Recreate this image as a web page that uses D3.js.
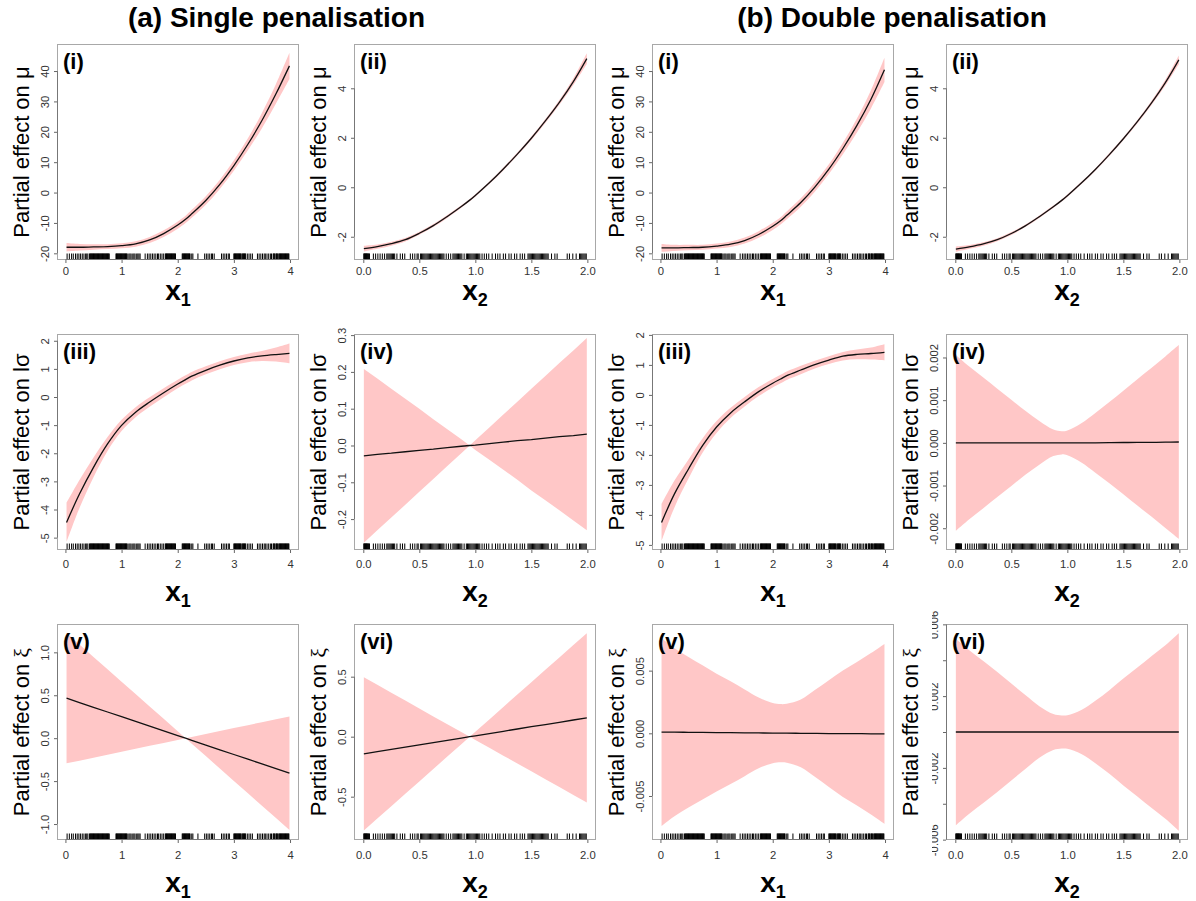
<!DOCTYPE html>
<html><head><meta charset="utf-8">
<script src="https://cdn.jsdelivr.net/npm/d3@7"></script>
<style>
body{margin:0;background:#fff}
svg{display:block}
text{font-family:"Liberation Sans",Arial,sans-serif}
</style>
</head><body>
<svg id="c" width="1196" height="901"></svg>
<script>
// ---------------- data ----------------
const x1Grid = [0.02,0.25,0.5,0.75,1.0,1.25,1.5,1.75,2.0,2.14,2.25,2.5,2.75,3.0,3.25,3.5,3.75,3.99];
const x2Grid = [0.005,0.125,0.25,0.375,0.5,0.625,0.75,0.875,0.95,1.0,1.125,1.25,1.375,1.5,1.625,1.75,1.875,1.995];

// (a) single penalisation
const aMuX1Fit = [-18.0,-18.0,-17.9,-17.8,-17.5,-16.9,-15.6,-13.5,-10.7,-8.8,-7.0,-2.6,2.7,8.9,15.9,23.7,32.5,41.7];
const aMuX1Se  = [1.4,1.1,0.9,0.8,0.8,0.9,1.0,1.1,1.2,1.2,1.3,1.4,1.5,1.7,2.0,2.5,3.2,4.3];
const aMuX2Fit = [-2.48,-2.40,-2.28,-2.12,-1.86,-1.55,-1.18,-0.78,-0.52,-0.33,0.18,0.74,1.34,1.98,2.68,3.43,4.27,5.20];
const aMuX2Se  = [0.12,0.09,0.08,0.07,0.06,0.06,0.06,0.05,0.05,0.05,0.05,0.06,0.06,0.07,0.08,0.10,0.14,0.22];
const aLsX1Fit = [-4.46,-3.45,-2.50,-1.67,-1.01,-0.54,-0.18,0.15,0.46,0.62,0.74,0.95,1.13,1.28,1.39,1.46,1.51,1.55];
const aLsX1Se  = [0.70,0.50,0.35,0.25,0.20,0.18,0.17,0.16,0.15,0.15,0.15,0.14,0.14,0.14,0.15,0.18,0.25,0.35];
const aLsX2Fit = [-0.028,-0.024,-0.021,-0.017,-0.013,-0.010,-0.006,-0.002,0.000,0.001,0.005,0.009,0.013,0.016,0.020,0.024,0.027,0.031];
const aLsX2Se  = [0.236,0.206,0.175,0.144,0.113,0.081,0.050,0.019,0.000,0.013,0.044,0.075,0.106,0.138,0.169,0.200,0.231,0.261];
const aXiX1Fit = [0.466,0.415,0.36,0.305,0.25,0.195,0.14,0.085,0.03,0.0,-0.025,-0.08,-0.135,-0.19,-0.245,-0.30,-0.355,-0.408];
const aXiX1Se  = [0.759,0.677,0.587,0.498,0.408,0.319,0.229,0.140,0.050,0.0,0.039,0.129,0.218,0.308,0.397,0.487,0.576,0.662];
const aXiX2Fit = [-0.143,-0.125,-0.106,-0.087,-0.069,-0.050,-0.031,-0.012,0.0,0.007,0.026,0.045,0.064,0.083,0.101,0.120,0.139,0.157];
const aXiX2Se  = [0.638,0.557,0.473,0.388,0.304,0.219,0.135,0.051,0.0,0.034,0.118,0.203,0.287,0.371,0.456,0.540,0.624,0.705];

// (b) double penalisation
const bMuX1Fit = [-18.2,-18.2,-18.1,-18.0,-17.6,-17.0,-15.8,-13.8,-11.1,-9.3,-7.5,-3.3,1.8,7.7,14.5,22.1,30.7,40.4];
const bMuX1Se  = [1.3,1.0,0.9,0.8,0.8,0.9,1.0,1.1,1.2,1.2,1.3,1.4,1.5,1.6,1.9,2.3,3.0,4.0];
const bMuX2Fit = [-2.50,-2.41,-2.29,-2.12,-1.87,-1.56,-1.19,-0.79,-0.53,-0.34,0.17,0.72,1.32,1.96,2.65,3.40,4.23,5.15];
const bMuX2Se  = [0.11,0.08,0.07,0.06,0.06,0.05,0.05,0.05,0.05,0.05,0.05,0.05,0.06,0.06,0.07,0.09,0.12,0.18];
const bLsX1Fit = [-4.25,-3.30,-2.47,-1.69,-1.07,-0.60,-0.23,0.11,0.39,0.53,0.64,0.83,1.01,1.16,1.29,1.35,1.38,1.42];
const bLsX1Se  = [0.62,0.45,0.32,0.24,0.20,0.17,0.16,0.15,0.14,0.14,0.14,0.14,0.13,0.13,0.14,0.16,0.20,0.27];
const bLsX2Fit = [0,0,0,0,0,0,0,0,0,0,0,0,0.000005,0.000008,0.00001,0.000012,0.000015,0.00002];
const bLsX2Se  = [0.00206,0.00179,0.00153,0.00127,0.00101,0.00075,0.00051,0.00031,0.00027,0.00029,0.00046,0.00070,0.00095,0.00121,0.00148,0.00174,0.00201,0.00227];
const bXiX1Fit = [0.0001,0.00009,0.00008,0.00007,0.00006,0.00005,0.00004,0.00003,0.00002,0.00001,0.00001,0,-0.00001,-0.00002,-0.00003,-0.00003,-0.00004,-0.00005];
const bXiX1Se  = [0.0075,0.0067,0.0060,0.00535,0.0047,0.0041,0.00346,0.00282,0.0024,0.00232,0.00235,0.0027,0.00346,0.00426,0.00505,0.00572,0.00644,0.00718];
const bXiX2Fit = [0,0,0,0,0,0,0,0,0,0,0,0,0,0,0,0,0,0];
const bXiX2Se  = [0.0052,0.00456,0.00396,0.00335,0.0027,0.00206,0.00144,0.0010,0.00092,0.00093,0.00122,0.00174,0.00233,0.00298,0.00359,0.00422,0.00483,0.0055];

// rug (observed covariate values)
const x1Rug = [0.03,0.07,0.11,0.14,0.18,0.21,0.24,0.27,0.30,0.33,0.36,0.38,0.40,
  0.43,0.44,0.45,0.46,0.47,0.48,0.49,0.50,0.51,0.52,0.53,0.54,0.55,0.56,0.57,0.58,0.59,0.60,0.61,0.62,0.63,0.64,
  0.65,0.66,0.67,0.68,0.69,0.70,0.71,0.72,0.73,0.74,0.75,0.76,0.77,0.78,
  0.90,0.91,0.92,0.93,0.94,0.95,0.96,0.97,0.98,0.99,1.00,1.01,1.02,1.03,1.04,1.05,1.06,1.07,1.08,1.09,1.10,
  1.13,1.15,1.17,1.20,1.22,1.24,1.27,1.29,1.31,1.33,
  1.42,1.46,1.49,1.52,1.55,1.58,1.61,1.64,1.66,1.69,1.72,1.75,1.78,1.79,1.80,1.81,1.82,1.83,1.84,1.85,1.86,
  1.87,1.88,1.89,1.90,1.91,1.92,1.93,1.94,1.95,1.96,
  2.08,2.09,2.10,2.11,2.12,2.13,2.14,2.15,2.16,2.17,2.18,2.19,2.20,2.21,2.22,2.25,2.27,2.36,
  2.48,2.51,2.54,2.57,2.60,2.62,2.65,2.78,2.81,2.84,2.87,2.90,2.92,
  3.00,3.01,3.02,3.03,3.04,3.05,3.06,3.07,3.08,3.09,3.10,3.11,3.12,3.13,3.15,3.16,3.17,3.18,3.19,3.20,3.21,
  3.24,3.27,3.30,3.33,
  3.42,3.45,3.48,3.51,3.54,3.56,3.59,3.62,3.65,3.67,3.70,3.71,3.72,3.73,3.75,3.76,3.77,3.78,3.80,3.81,3.82,
  3.83,3.84,3.85,3.86,3.87,3.88,3.89,3.90,3.91,3.92,3.93,3.94,3.95,3.96,3.97,3.98];
const x2Rug = [0.005,0.008,0.012,0.016,0.02,0.024,0.028,0.032,0.035,0.04,0.045,0.05,0.055,
  0.09,0.11,0.13,0.15,0.17,0.19,0.21,0.22,0.23,0.24,0.25,0.26,0.27,0.28,0.30,0.33,0.35,0.37,
  0.42,0.44,0.46,0.48,0.49,0.51,0.52,0.53,0.54,0.55,0.56,0.57,0.58,0.59,0.60,0.61,0.62,0.63,0.64,0.65,0.66,
  0.67,0.68,0.69,0.70,0.71,0.72,0.74,0.76,0.78,
  0.80,0.81,0.82,0.83,0.84,0.85,0.86,0.87,0.88,0.90,0.92,0.93,0.94,0.95,0.96,0.97,0.98,0.99,1.00,1.01,1.02,
  1.03,1.04,1.06,1.08,1.10,1.12,1.15,1.18,1.20,1.22,
  1.25,1.27,1.30,1.32,1.35,1.37,1.40,1.42,1.44,1.47,1.48,1.49,1.50,1.51,1.52,1.53,1.54,1.55,1.56,1.57,1.58,
  1.59,1.60,1.61,1.62,1.63,1.64,1.65,1.68,1.71,1.73,
  1.82,1.84,1.87,1.90,1.93,1.94,1.95,1.96,1.97,1.98,1.99];

// axis ticks and labels
const x1Ticks = [0,1,2,3,4];
const x1TickLabels = ["0","1","2","3","4"];
const x2Ticks = [0,0.5,1,1.5,2];
const x2TickLabels = ["0.0","0.5","1.0","1.5","2.0"];
const muX1YTicks = [-20,-10,0,10,20,30,40];
const muX1YLabels = ["-20","-10","0","10","20","30","40"];
const muX2YTicks = [-2,0,2,4];
const muX2YLabels = ["-2","0","2","4"];
const lsX1YTicks = [-5,-4,-3,-2,-1,0,1,2];
const lsX1YLabels = ["-5","-4","-3","-2","-1","0","1","2"];
const aLsX2YTicks = [-0.2,-0.1,0,0.1,0.2,0.3];
const aLsX2YLabels = ["-0.2","-0.1","0.0","0.1","0.2","0.3"];
const bLsX2YTicks = [-0.002,-0.001,0,0.001,0.002];
const bLsX2YLabels = ["-0.002","-0.001","0.000","0.001","0.002"];
const aXiX1YTicks = [-1,-0.5,0,0.5,1];
const aXiX1YLabels = ["-1.0","-0.5","0.0","0.5","1.0"];
const aXiX2YTicks = [-0.5,0,0.5];
const aXiX2YLabels = ["-0.5","0.0","0.5"];
const bXiX1YTicks = [-0.005,0,0.005];
const bXiX1YLabels = ["-0.005","0.000","0.005"];
const bXiX2YTicks = [-0.006,-0.004,-0.002,0,0.002,0.004,0.006];
const bXiX2YLabels = ["-0.006","","-0.002","","0.002","","0.006"];

const headers = ["(a) Single penalisation","(b) Double penalisation"];

// ---------------- layout ----------------
const colLeft = [57, 354, 652, 946];
const rowTop = [44, 334, 624];
const boxW = 242, boxH = 216;
const tickLabelOff = [14.5, 18.3, 18.5];
const xTitleOff = [40, 51.4, 51.7];
const FONT = '"Liberation Sans",Arial,sans-serif';
const TICKFS = 11.3;

const panels = [
 {row:0,col:0,tag:"(i)",  resp:"μ", xv:1,fit:aMuX1Fit,se:aMuX1Se,yDom:[-22.2,48.9],yT:muX1YTicks,yL:muX1YLabels},
 {row:0,col:1,tag:"(ii)", resp:"μ", xv:2,fit:aMuX2Fit,se:aMuX2Se,yDom:[-2.94,5.79],yT:muX2YTicks,yL:muX2YLabels},
 {row:0,col:2,tag:"(i)",  resp:"μ", xv:1,fit:bMuX1Fit,se:bMuX1Se,yDom:[-22.2,48.9],yT:muX1YTicks,yL:muX1YLabels},
 {row:0,col:3,tag:"(ii)", resp:"μ", xv:2,fit:bMuX2Fit,se:bMuX2Se,yDom:[-2.94,5.79],yT:muX2YTicks,yL:muX2YLabels},
 {row:1,col:0,tag:"(iii)",resp:"σ", xv:1,fit:aLsX1Fit,se:aLsX1Se,yDom:[-5.44,2.24],yT:lsX1YTicks,yL:lsX1YLabels},
 {row:1,col:1,tag:"(iv)", resp:"σ", xv:2,fit:aLsX2Fit,se:aLsX2Se,yDom:[-0.284,0.303],yT:aLsX2YTicks,yL:aLsX2YLabels,linear:true},
 {row:1,col:2,tag:"(iii)",resp:"σ", xv:1,fit:bLsX1Fit,se:bLsX1Se,yDom:[-5.17,2.03],yT:lsX1YTicks,yL:lsX1YLabels},
 {row:1,col:3,tag:"(iv)", resp:"σ", xv:2,fit:bLsX2Fit,se:bLsX2Se,yDom:[-0.00251,0.00255],yT:bLsX2YTicks,yL:bLsX2YLabels},
 {row:2,col:0,tag:"(v)",  resp:"ξ", xv:1,fit:aXiX1Fit,se:aXiX1Se,yDom:[-1.186,1.33],yT:aXiX1YTicks,yL:aXiX1YLabels,linear:true},
 {row:2,col:1,tag:"(vi)", resp:"ξ", xv:2,fit:aXiX2Fit,se:aXiX2Se,yDom:[-0.861,0.939],yT:aXiX2YTicks,yL:aXiX2YLabels,linear:true},
 {row:2,col:2,tag:"(v)",  resp:"ξ", xv:1,fit:bXiX1Fit,se:bXiX1Se,yDom:[-0.00851,0.00872],yT:bXiX1YTicks,yL:bXiX1YLabels},
 {row:2,col:3,tag:"(vi)", resp:"ξ", xv:2,fit:bXiX2Fit,se:bXiX2Se,yDom:[-0.00602,0.00602],yT:bXiX2YTicks,yL:bXiX2YLabels,clipLabels:932}
];

const svg = d3.select("#c");
const defs = svg.append("defs");

// headers
svg.append("text").attr("x",276.5).attr("y",27).attr("text-anchor","middle")
  .attr("font-size",28).attr("font-weight","bold").attr("fill","#000").text(headers[0]);
svg.append("text").attr("x",892).attr("y",27).attr("text-anchor","middle")
  .attr("font-size",28).attr("font-weight","bold").attr("fill","#000").text(headers[1]);

panels.forEach((p,i)=>{
  const L = colLeft[p.col], T = rowTop[p.row], R = L+boxW, B = T+boxH;
  const xg = p.xv===1 ? x1Grid : x2Grid;
  const rug = p.xv===1 ? x1Rug : x2Rug;
  const xT = p.xv===1 ? x1Ticks : x2Ticks;
  const xL = p.xv===1 ? x1TickLabels : x2TickLabels;
  const x = d3.scaleLinear().domain(p.xv===1 ? [-0.15,4.16] : [-0.083,2.077]).range([L,R]);
  const y = d3.scaleLinear().domain(p.yDom).range([B,T]);
  const cid = "clip"+i;
  defs.append("clipPath").attr("id",cid).append("rect")
    .attr("x",L).attr("y",T).attr("width",boxW).attr("height",boxH);
  const g = svg.append("g");
  const pts = xg.map((xv,k)=>({x:xv,f:p.fit[k],s:p.se[k]}));
  const curve = p.linear ? d3.curveLinear : d3.curveCatmullRom.alpha(0.5);

  g.append("path").datum(pts).attr("clip-path",`url(#${cid})`)
    .attr("fill","#ffc7c7").attr("stroke","none")
    .attr("d", d3.area().x(d=>x(d.x)).y0(d=>y(d.f-d.s)).y1(d=>y(d.f+d.s)).curve(curve));
  g.append("path").datum(pts).attr("clip-path",`url(#${cid})`)
    .attr("fill","none").attr("stroke","#111").attr("stroke-width",1.3)
    .attr("d", d3.line().x(d=>x(d.x)).y(d=>y(d.f)).curve(curve));

  // rug
  g.append("g").selectAll("line").data(rug).join("line")
    .attr("x1",d=>x(d)).attr("x2",d=>x(d)).attr("y1",B).attr("y2",B-6.5)
    .attr("stroke","#000").attr("stroke-width",1);

  // box
  g.append("rect").attr("x",L+0.5).attr("y",T+0.5).attr("width",boxW-1).attr("height",boxH-1)
    .attr("fill","none").attr("stroke","#a8a8a8").attr("stroke-width",1);

  // x axis
  const xa = g.append("g").attr("transform",`translate(0,${B})`)
    .call(d3.axisBottom(x).tickValues(xT).tickFormat((d,k)=>xL[k]).tickSize(3).tickSizeOuter(0));
  xa.attr("font-family",FONT).attr("font-size",TICKFS);
  xa.select(".domain").remove();
  xa.selectAll(".tick line").attr("stroke","#666");
  xa.selectAll(".tick text").attr("y",tickLabelOff[p.row]).attr("dy",0).attr("fill","#333");
  g.append("line").attr("x1",x(xT[0])).attr("x2",x(xT[xT.length-1]))
    .attr("y1",B-0.5).attr("y2",B-0.5).attr("stroke","#777");

  // y axis
  const ya = g.append("g").attr("transform",`translate(${L},0)`)
    .call(d3.axisLeft(y).tickValues(p.yT).tickFormat((d,k)=>p.yL[k]).tickSize(3).tickSizeOuter(0));
  ya.attr("font-family",FONT).attr("font-size",TICKFS);
  ya.select(".domain").remove();
  ya.selectAll(".tick line").attr("stroke","#666");
  ya.selectAll(".tick text").attr("x",0).attr("y",-8.5).attr("dy",0)
    .attr("text-anchor","middle").attr("transform","rotate(-90)").attr("fill","#333");
  if (p.clipLabels) {
    ya.selectAll(".tick").each(function(d,k){
      const tk = d3.select(this);
      const cidT = "lclip"+i+"_"+k;
      defs.append("clipPath").attr("id",cidT).append("rect")
        .attr("x",p.clipLabels-L).attr("y",-30).attr("width",L-p.clipLabels).attr("height",60);
      tk.append("g").attr("clip-path",`url(#${cidT})`).node().appendChild(tk.select("text").node());
    });
  }
  g.append("line").attr("x1",L+0.5).attr("x2",L+0.5)
    .attr("y1",y(p.yT[0])).attr("y2",y(p.yT[p.yT.length-1])).attr("stroke","#777");

  // y title
  const yt = g.append("text").attr("transform",`translate(${L-28.5},${T+boxH/2}) rotate(-90)`)
    .attr("text-anchor","middle").attr("font-size",22).attr("fill","#000");
  yt.append("tspan").text("Partial effect on ");
  if (p.resp==="σ") { yt.append("tspan").text("lσ"); }
  else if (p.resp==="ξ") { yt.append("tspan").attr("font-family",'"Liberation Serif","DejaVu Serif",serif').text("ξ"); }
  else { yt.append("tspan").text("μ"); }

  // x title
  const xt = g.append("text").attr("x",L+boxW/2).attr("y",B+xTitleOff[p.row])
    .attr("text-anchor","middle").attr("font-size",28).attr("font-weight","bold").attr("fill","#000");
  xt.append("tspan").text("x");
  xt.append("tspan").attr("font-size",18).attr("dy",6).text(p.xv===1?"1":"2");

  // panel tag
  g.append("text").attr("x",L+6).attr("y",T+25).attr("font-size",22).attr("font-weight","bold")
    .attr("fill","#000").text(p.tag);
});
</script>
</body></html>
